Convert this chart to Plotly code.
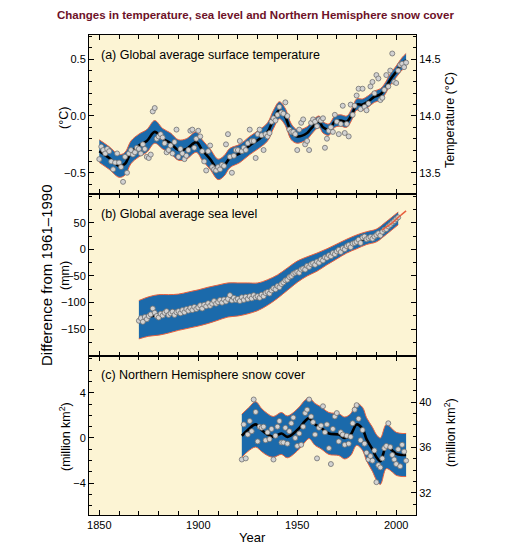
import plotly.graph_objects as go

# ---------------- DATA ----------------
# (a) Global average surface temperature anomaly (deg C)
temp_years = list(range(1850, 2006))
temp_values = [
    -0.38, -0.27, -0.30, -0.33, -0.29, -0.31, -0.40, -0.47, -0.41, -0.33,
    -0.41, -0.45, -0.58, -0.36, -0.50, -0.33, -0.30, -0.34, -0.32, -0.28,
    -0.29, -0.33, -0.25, -0.29, -0.36, -0.37, -0.34, 0.04, 0.07, -0.20,
    -0.18, -0.16, -0.19, -0.24, -0.32, -0.30, -0.26, -0.33, -0.23, -0.12,
    -0.36, -0.29, -0.33, -0.38, -0.35, -0.30, -0.13, -0.12, -0.28, -0.20,
    -0.13, -0.18, -0.31, -0.40, -0.48, -0.31, -0.26, -0.45, -0.47, -0.48,
    -0.45, -0.47, -0.43, -0.44, -0.25, -0.16, -0.36, -0.50, -0.35, -0.30,
    -0.30, -0.22, -0.31, -0.28, -0.30, -0.24, -0.12, -0.22, -0.22, -0.37,
    -0.16, -0.12, -0.17, -0.30, -0.16, -0.18, -0.15, -0.05, -0.02, -0.04,
    0.01, 0.08, 0.03, 0.02, 0.12, 0.00, -0.12, -0.14, -0.14, -0.16,
    -0.30, -0.12, -0.06, -0.03, -0.25, -0.22, -0.30, -0.06, -0.03, -0.05,
    -0.09, -0.03, -0.04, -0.02, -0.28, -0.20, -0.13, -0.10, -0.14, 0.01,
    -0.05, -0.16, -0.07, 0.09, -0.15, -0.07, -0.18, 0.10, 0.01, 0.09,
    0.18, 0.24, 0.06, 0.24, 0.08, 0.05, 0.11, 0.26, 0.30, 0.20,
    0.36, 0.33, 0.14, 0.16, 0.23, 0.36, 0.26, 0.40, 0.55, 0.30,
    0.29, 0.40, 0.45, 0.46, 0.43, 0.47,
]
temp_smooth_years = [1850, 1855, 1860, 1863, 1866, 1870, 1874, 1878, 1882, 1886,
                     1890, 1894, 1899, 1902, 1906, 1910, 1913, 1916, 1921, 1926,
                     1931, 1935, 1938, 1941, 1944, 1947, 1950, 1955, 1957, 1961,
                     1963, 1966, 1969, 1972, 1975, 1978, 1980, 1983, 1986, 1989,
                     1992, 1994, 1997, 2000, 2003, 2005]
temp_smooth = [-0.31, -0.37, -0.44, -0.42, -0.32, -0.26, -0.22, -0.14, -0.20, -0.24,
               -0.30, -0.29, -0.23, -0.30, -0.38, -0.47, -0.44, -0.37, -0.33, -0.26,
               -0.20, -0.14, -0.03, 0.05, -0.01, -0.14, -0.18, -0.15, -0.11, -0.05,
               -0.10, -0.12, -0.05, -0.04, -0.05, 0.03, 0.10, 0.10, 0.13, 0.17,
               0.19, 0.23, 0.32, 0.39, 0.46, 0.49]
temp_unc = [0.10, 0.10, 0.10, 0.10, 0.10, 0.10, 0.10, 0.10, 0.09, 0.09,
            0.09, 0.09, 0.09, 0.09, 0.09, 0.09, 0.09, 0.085, 0.08, 0.08,
            0.08, 0.08, 0.08, 0.075, 0.075, 0.07, 0.06, 0.055, 0.055, 0.05,
            0.05, 0.05, 0.05, 0.05, 0.05, 0.05, 0.05, 0.05, 0.05, 0.05,
            0.05, 0.05, 0.05, 0.05, 0.055, 0.06]

# (b) Global average sea level (mm)
sea_years = list(range(1870, 2002))
sea_values = [
    -134, -129, -136, -127, -131, -125, -122, -111, -119, -125,
    -128, -121, -124, -119, -116, -123, -120, -117, -123, -118,
    -116, -120, -114, -118, -112, -115, -110, -114, -108, -112,
    -109, -105, -111, -104, -107, -101, -106, -102, -97, -102,
    -99, -95, -100, -94, -98, -93, -86, -96, -91, -95,
    -93, -97, -90, -95, -89, -93, -88, -92, -86, -90,
    -88, -91, -85, -88, -82, -80, -83, -77, -73, -75,
    -69, -71, -65, -62, -58, -57, -52, -50, -46, -44,
    -42, -44, -38, -36, -38, -31, -33, -28, -26, -29,
    -23, -25, -19, -21, -15, -16, -11, -13, -7, -9,
    -4, -1, -5, 2, 0, 6, 8, 4, 11, 12,
    14, 18, 12, 22, 24, 19, 21, 23, 20, 24,
    27, 30, 26, 33, 37, 38, 43, 46, 50, 53, 57, 60,
]
sea_smooth_years = [1870, 1875, 1880, 1885, 1890, 1895, 1900, 1905, 1910, 1915,
                    1920, 1925, 1930, 1935, 1940, 1945, 1950, 1955, 1960, 1965,
                    1970, 1975, 1980, 1985, 1990, 1995, 2001]
sea_smooth = [-132, -126, -123, -121, -118, -114, -110, -105, -100, -95,
              -94, -92, -89, -81, -70, -56, -42, -32, -24, -14,
              -4, 6, 14, 21, 26, 40, 58]
sea_unc = [36, 37, 38, 36, 34, 34, 34, 34, 33, 32,
           31, 29, 26, 24, 22, 21, 20, 18, 17, 15,
           14, 13, 13, 12, 12, 12, 12]
sat_years = [1993, 1995, 1997, 1999, 2001, 2003, 2005]
sat_values = [36, 42, 47, 53, 60, 66, 72]

# (c) Northern Hemisphere snow cover (million km2)
snow_years = list(range(1922, 2006))
snow_values = [
    -1.9, 1.2, -1.8, 0.3, 1.5, 0.6, 3.4, 2.3,
    -0.3, 1.0, 0.9, 1.0, -0.2, 0.5, -0.1, 0.8, -1.9, 0.2,
    1.0, 1.5, -0.4, -0.4, 0.9, -0.5, 0.6, 1.3, 1.8, 0.0,
    -0.7, 0.4, -0.6, 1.0, 2.2, 2.5, 3.4, 1.9, 1.4, 0.3,
    -1.8, 0.9, 1.1, 2.8, 0.5, 1.2, -0.9, -2.3, 0.8, 1.9,
    2.2, -0.3, 0.5, 0.3, -0.6, 0.2, -0.5, 0.1, 1.3, 2.5,
    2.9, 1.7, -0.2, 0.7, -0.5, -1.3, -1.9, -1.6, -2.0, -1.1,
    -3.9, -2.4, -2.6, -1.8, -0.9, -0.7, 1.3, -0.8, -1.5, -1.9,
    -2.3, -1.0, -2.5, -0.6, -1.2, -2.0,
]
snow_smooth_years = [1922, 1925, 1929, 1932, 1935, 1938, 1942, 1945, 1950, 1954,
                     1956, 1959, 1962, 1966, 1971, 1974, 1977, 1980, 1983, 1985,
                     1988, 1990, 1992, 1995, 1998, 2000, 2003, 2005]
snow_smooth = [0.2, 0.7, 1.2, 0.7, 0.3, 0.1, 0.4, 0.1, 0.7, 1.5,
               1.75, 1.2, 0.9, 0.4, 0.3, 0.0, 0.3, 1.2, 0.8, -0.1,
               -1.0, -1.7, -2.05, -0.75, -1.1, -1.4, -1.5, -1.5]
snow_unc = [1.9, 1.9, 2.0, 1.9, 1.85, 1.8, 1.85, 1.85, 1.85, 1.85,
            1.8, 1.85, 1.85, 1.85, 1.85, 1.85, 1.85, 1.85, 1.9, 1.9,
            1.95, 2.0, 2.05, 1.95, 1.9, 1.9, 1.9, 1.9]

title_text = "Changes in temperature, sea level and Northern Hemisphere snow cover"
panel_labels = ["(a) Global average surface temperature",
                "(b) Global average sea level",
                "(c) Northern Hemisphere snow cover"]

# ---------------- STYLE ----------------
W, H = 514, 548
ML, MR, MT, MB = 89, 98, 35, 33
PW, PH = W - ML - MR, H - MT - MB
BG = "#fcf4d4"
BLUE = "#1b6aab"
RED = "#e8603f"
FONT = "Arial, Liberation Sans, sans-serif"


def px_x(p):
    return (p - ML) / PW


def px_y(p):
    return (H - MB - p) / PH


dom_a = [px_y(194), 1.0]
dom_b = [px_y(356), px_y(194)]
dom_c = [0.0, px_y(356)]

fig = go.Figure()


def add_panel(xa, ya, yrs, center, unc, pts_x, pts_y):
    lo = [c - u for c, u in zip(center, unc)]
    hi = [c + u for c, u in zip(center, unc)]
    fig.add_trace(go.Scatter(x=yrs, y=lo, mode="lines", xaxis=xa, yaxis=ya,
                             line=dict(color=RED, width=1, shape="spline", smoothing=1.0),
                             hoverinfo="skip"))
    fig.add_trace(go.Scatter(x=yrs, y=hi, mode="lines", xaxis=xa, yaxis=ya, fill="tonexty",
                             fillcolor=BLUE,
                             line=dict(color=RED, width=1, shape="spline", smoothing=1.0),
                             hoverinfo="skip"))
    fig.add_trace(go.Scatter(x=yrs, y=center, mode="lines", xaxis=xa, yaxis=ya,
                             line=dict(color="black", width=2.6, shape="spline", smoothing=1.0)))
    fig.add_trace(go.Scatter(x=pts_x, y=pts_y, mode="markers", xaxis=xa, yaxis=ya,
                             marker=dict(size=5, color="#d2d2d2",
                                         line=dict(color="#707070", width=0.8))))


add_panel("x", "y", temp_smooth_years, temp_smooth, temp_unc, temp_years, temp_values)
add_panel("x2", "y3", sea_smooth_years, sea_smooth, sea_unc, sea_years, sea_values)
fig.add_trace(go.Scatter(x=sat_years, y=sat_values, mode="lines", xaxis="x2", yaxis="y3",
                         line=dict(color=RED, width=1.5, shape="spline")))
add_panel("x3", "y4", snow_smooth_years, snow_smooth, snow_unc, snow_years, snow_values)
# invisible traces so the right-hand axes are drawn
fig.add_trace(go.Scatter(x=[1900], y=[14.0], xaxis="x", yaxis="y2", mode="markers",
                         marker=dict(opacity=0), hoverinfo="skip"))
fig.add_trace(go.Scatter(x=[1900], y=[36.0], xaxis="x3", yaxis="y5", mode="markers",
                         marker=dict(opacity=0), hoverinfo="skip"))

tickfont = dict(family=FONT, size=11, color="black")
XR = [1844.8, 2010.0]


def xax(anchor, labels):
    return dict(domain=[0, 1], range=XR, anchor=anchor, showticklabels=labels,
                automargin=False,
                tickmode="linear", tick0=1850, dtick=50, ticks="inside", ticklen=5,
                tickwidth=1, tickcolor="black", showline=True, linecolor="black",
                linewidth=1, mirror="ticks", showgrid=False, zeroline=False,
                tickfont=tickfont,
                minor=dict(tickmode="linear", tick0=1850, dtick=10, ticks="inside",
                           ticklen=4, tickcolor="black", showgrid=False))


def yax(domain, rng, anchor, tick0, mdtick, tickvals, side="left", overlaying=None,
        mirror=False, fmt=None):
    d = dict(domain=domain, range=rng, anchor=anchor, side=side, automargin=False,
             tickmode="array", tickvals=tickvals,
             ticks="inside", ticklen=5, tickwidth=1, tickcolor="black",
             showline=True, linecolor="black", linewidth=1, mirror=mirror,
             showgrid=False, zeroline=False, tickfont=tickfont,
             minor=dict(tickmode="linear", tick0=tick0, dtick=mdtick, ticks="inside",
                        ticklen=3, tickcolor="black", showgrid=False))
    if fmt:
        d["tickformat"] = fmt
    if overlaying:
        d["overlaying"] = overlaying
        d.pop("domain")
    return d


fig.update_layout(
    template="none",
    width=W, height=H, margin=dict(l=ML, r=MR, t=MT, b=MB, autoexpand=False),
    plot_bgcolor=BG, paper_bgcolor="white", showlegend=False,
    font=dict(family=FONT, color="black"),
    xaxis=xax("y", False),
    xaxis2=xax("y3", False),
    xaxis3=xax("y4", True),
    yaxis=yax(dom_a, [-0.687, 0.713], "x", 0, 0.1, [-0.5, 0.0, 0.5], fmt=".1f"),
    yaxis2=yax(None, [13.313, 14.713], "x", 13.5, 0.1, [13.5, 14.0, 14.5], side="right",
               overlaying="y", fmt=".1f"),
    yaxis3=yax(dom_b, [-200.1, 103.8], "x2", 0, 25, [-150, -100, -50, 0, 50],
               mirror="ticks"),
    yaxis4=yax(dom_c, [-6.80, 7.24], "x3", 0, 1, [-4, 0, 4]),
    yaxis5=yax(None, [30.04, 44.08], "x3", 32, 1, [32, 36, 40], side="right",
               overlaying="y4"),
)

ann = []


def txt(text, x, y, size, angle=0, xanchor="center", color="black", bold=False):
    if bold:
        text = "<b>" + text + "</b>"
    ann.append(dict(text=text, xref="paper", yref="paper", x=px_x(x), y=px_y(y),
                    xanchor=xanchor, yanchor="middle", showarrow=False, textangle=angle,
                    font=dict(family=FONT, size=size, color=color)))


txt(title_text, 255, 15, 11.5, color="#6d1128", bold=True)
txt(panel_labels[0], 99, 55, 12.5, xanchor="left")
txt(panel_labels[1], 99, 214, 12.5, xanchor="left")
txt(panel_labels[2], 99, 375, 12.5, xanchor="left")
txt("(°C)", 64, 118, 12.5, angle=-90)
txt("(mm)", 65, 276, 12.5, angle=-90)
txt("(million km<sup>2</sup>)", 65, 437, 12.5, angle=-90)
txt("Temperature (°C)", 450, 120, 12.5, angle=-90)
txt("(million km<sup>2</sup>)", 450, 433, 12.5, angle=-90)
txt("Difference from 1961–1990", 46, 275, 15, angle=-90)
txt("Year", 252, 537, 13)
fig.update_layout(annotations=ann)

fig.write_html("out.html", config={"displayModeBar": False},
               post_script="document.body.style.margin='0';document.body.style.padding='0';")
